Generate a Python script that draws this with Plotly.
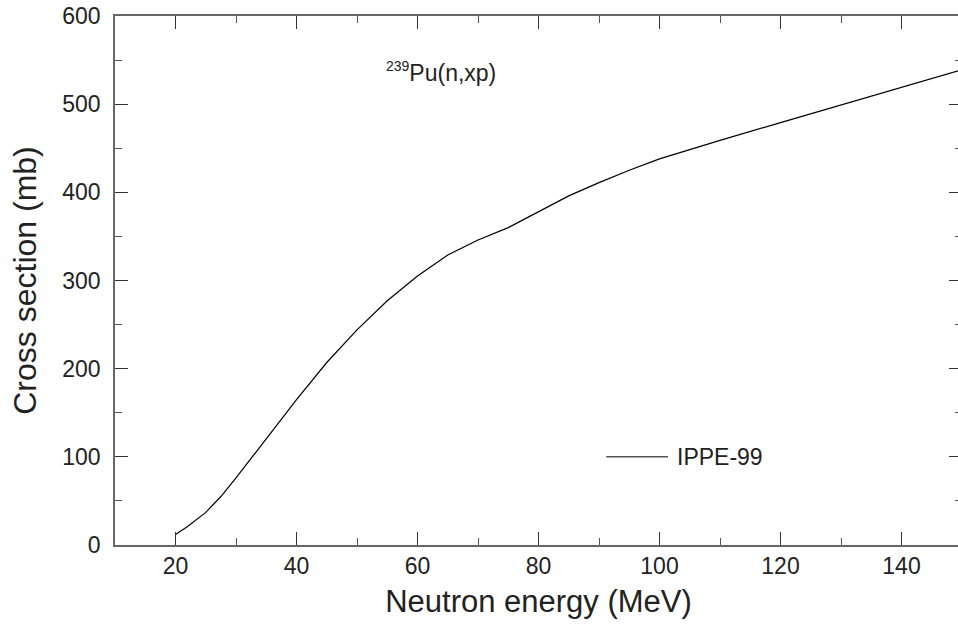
import plotly.graph_objects as go

# Neutron energy (MeV) and cross section (mb)
energy = [20, 22, 25, 27.5, 30, 35, 40, 45, 50, 55, 60, 65, 70, 75, 80, 85, 90, 95, 100, 110, 120, 130, 140, 150]
xsec = [12, 21, 37, 55, 76, 121, 165, 207, 244, 277, 305, 329, 346, 360, 378, 396, 411, 425, 438, 459, 479, 499, 519, 539]

series_name = "IPPE-99"
reaction_label = "<sup><span style='font-size:14px'>239</span></sup>Pu(n,xp)"
x_title = "Neutron energy (MeV)"
y_title = "Cross section (mb)"
x_ticks = [20, 40, 60, 80, 100, 120, 140]
y_ticks = [0, 100, 200, 300, 400, 500, 600]

FONT = "Liberation Sans, Arial, sans-serif"

fig = go.Figure()
fig.add_trace(go.Scatter(x=energy, y=xsec, mode="lines", name=series_name,
                         line=dict(color="black", width=1.2), showlegend=False))

axis_common = dict(
    showline=True, linecolor="#666", linewidth=1.5, mirror="allticks",
    ticks="inside", ticklen=13, tickwidth=1.2, tickcolor="#333",
    showgrid=False, zeroline=False,
    tickfont=dict(family=FONT, size=23, color="#222"),
)

fig.update_xaxes(range=[10, 150], tickvals=x_ticks,
                 minor=dict(ticks="inside", ticklen=7, dtick=10, tick0=0, tickcolor="#555", tickwidth=1.2),
                 title=dict(text=x_title, font=dict(family=FONT, size=31, color="#222"), standoff=12),
                 automargin=False, **axis_common)
fig.update_yaxes(range=[0, 600], tickvals=y_ticks,
                 minor=dict(ticks="inside", ticklen=7, dtick=50, tick0=0, tickcolor="#555", tickwidth=1.2),
                 title=dict(text=y_title, font=dict(family=FONT, size=32, color="#222"), standoff=16),
                 ticklabelstandoff=8,
                 automargin=False, **axis_common)

# legend key drawn in data coordinates
fig.add_shape(type="line", x0=91.2, x1=101.4, y0=100, y1=100, xref="x", yref="y",
              line=dict(color="black", width=1))
fig.add_annotation(x=102.6, y=100, xref="x", yref="y", text=series_name, showarrow=False,
                   xanchor="left", yanchor="middle", font=dict(family=FONT, size=23, color="#222"))
fig.add_annotation(x=54.4, y=537, xref="x", yref="y", text=reaction_label, showarrow=False,
                   xanchor="left", yanchor="middle", font=dict(family=FONT, size=23, color="#222"))

fig.update_layout(
    width=962, height=635,
    margin=dict(l=115, r=0, t=16, b=90),
    paper_bgcolor="white", plot_bgcolor="white",
    font=dict(family=FONT),
)

fig.write_html("out.html", post_script="document.body.style.overflow='hidden';document.documentElement.style.overflow='hidden';")
